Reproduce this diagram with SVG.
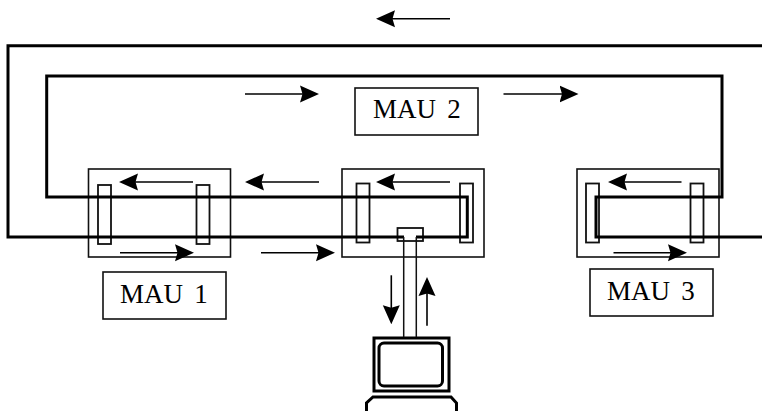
<svg xmlns="http://www.w3.org/2000/svg" width="762" height="411" viewBox="0 0 762 411">
<style>
.box{fill:#fff;stroke:#111;stroke-width:1.6}
.slot{fill:#fff;stroke:#111;stroke-width:1.8}
.ring{fill:none;stroke:#000;stroke-width:3}
.arr{fill:none;stroke:#000;stroke-width:1.6;marker-end:url(#head)}
.cable{fill:none;stroke:#111;stroke-width:1.5}
.lbl{font-family:"Liberation Serif","Times New Roman",serif;font-size:27px;fill:#000;word-spacing:4.5px}
</style>
<defs>
<marker id="head" markerUnits="userSpaceOnUse" markerWidth="19" markerHeight="18" viewBox="0 0 19 18" refX="12" refY="9" orient="auto">
<path d="M0,0.5 L19,9 L0,17.500 L2.500,9 Z" fill="#000"/>
</marker>
</defs>
<rect width="762" height="411" fill="#fff"/>
<g id="mau1">
<rect class="box" x="88.5" y="169" width="142" height="88"/>
<rect class="slot" x="98" y="185" width="13" height="59"/>
<rect class="slot" x="196.5" y="185" width="13" height="59"/>
</g>
<g id="mau-center">
<rect class="box" x="342" y="169" width="142" height="88"/>
<rect class="slot" x="356.5" y="183.5" width="13" height="59"/>
<rect class="slot" x="460" y="183.5" width="13" height="59"/>
<rect class="slot" x="397.5" y="228" width="25.500" height="13"/>
</g>
<g id="mau3">
<rect class="box" x="577" y="169" width="142" height="88"/>
<rect class="slot" x="586" y="183.5" width="13" height="59"/>
<rect class="slot" x="690.5" y="183.5" width="13" height="59"/>
</g>
<g id="label-mau1">
<rect class="box" x="103" y="272" width="123" height="47"/>
<text class="lbl" x="120" y="303">MAU 1</text>
</g>
<g id="label-mau2">
<rect class="box" x="355" y="88" width="123" height="47"/>
<text class="lbl" x="373" y="118">MAU 2</text>
</g>
<g id="label-mau3">
<rect class="box" x="590" y="269" width="123" height="47"/>
<text class="lbl" x="607" y="300">MAU 3</text>
</g>
<g id="computer">
<rect x="374" y="338" width="75" height="53" fill="#fff" stroke="#000" stroke-width="3"/>
<rect x="379" y="343" width="63.500" height="43" rx="5" fill="#fff" stroke="#000" stroke-width="3"/>
<path d="M366.500,412 V403 L373,397 H451 L456.500,403 V412" fill="#fff" stroke="#000" stroke-width="3"/>
</g>
<g id="connectors">
<path class="ring" d="M762,45.700 H8 V237 H404"/>
<path class="ring" d="M416,237 H467.300 V197 H46.700 V76 H722 V197 H596 V237 H762"/>
<path class="cable" d="M403.700,237 V337 M416.300,237 V337"/>
<line class="arr" x1="450" y1="18.700" x2="383" y2="18.700"/>
<line class="arr" x1="245" y1="94" x2="312" y2="94"/>
<line class="arr" x1="503.500" y1="94" x2="571.500" y2="94"/>
<line class="arr" x1="193" y1="182" x2="126" y2="182"/>
<line class="arr" x1="120" y1="252.700" x2="187" y2="252.700"/>
<line class="arr" x1="319" y1="182" x2="252" y2="182"/>
<line class="arr" x1="261" y1="252.700" x2="328" y2="252.700"/>
<line class="arr" x1="450" y1="182" x2="383" y2="182"/>
<line class="arr" x1="681.500" y1="182" x2="615" y2="182"/>
<line class="arr" x1="613.500" y1="252.700" x2="680" y2="252.700"/>
<line class="arr" x1="391.300" y1="275.300" x2="391.300" y2="317.300"/>
<line class="arr" x1="427" y1="325.700" x2="427" y2="284"/>
</g>
</svg>
